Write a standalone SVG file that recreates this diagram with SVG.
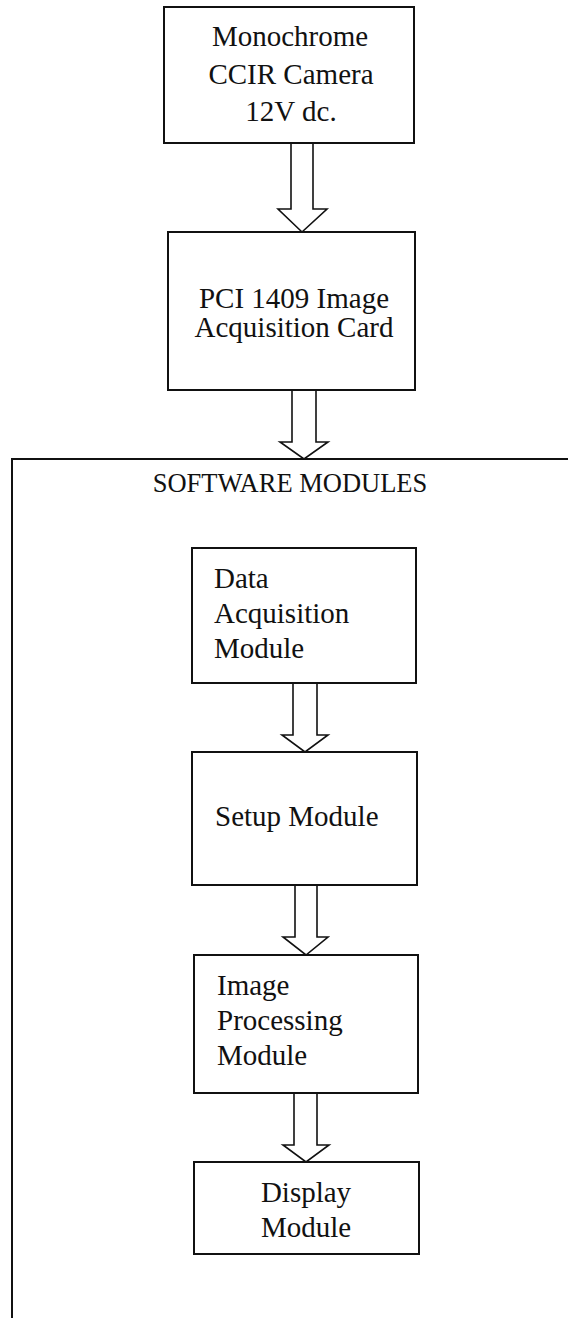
<svg xmlns="http://www.w3.org/2000/svg" width="568" height="1318" viewBox="0 0 568 1318">
<style>
.box{fill:#fff;stroke:#111;stroke-width:2}
.arr{fill:#fff;stroke:#111;stroke-width:1.6;stroke-linejoin:miter}
.frame{fill:none;stroke:#111;stroke-width:2}
text{font-family:"Liberation Serif","Times New Roman",serif;font-size:29px;fill:#111}
.c{text-anchor:middle}
</style>
<rect width="568" height="1318" fill="#fff"/>
<g id="software-modules">
<path class="frame" d="M12,1318 V459 H568"/>
<text class="c" x="290" y="492" style="font-size:26.5px">SOFTWARE MODULES</text>
</g>
<g id="connectors">
<path class="arr" d="M291,143 V209 H278 L302,232 L327,209 H313 V143"/>
<path class="arr" d="M292,390 V442 H280 L304,459 L328,442 H316 V390"/>
<path class="arr" d="M293,683 V735 H282 L305,752 L328,735 H317 V683"/>
<path class="arr" d="M295,885 V937 H283 L306,955 L328,937 H317 V885"/>
<path class="arr" d="M294,1093 V1145 H283 L306,1162 L329,1145 H317 V1093"/>
</g>
<g id="camera">
<rect class="box" x="164" y="7" width="250" height="136"/>
<text class="c" x="290" y="46">Monochrome</text>
<text class="c" x="291" y="84">CCIR Camera</text>
<text class="c" x="291" y="121">12V dc.</text>
</g>
<g id="acq-card">
<rect class="box" x="168" y="232" width="247" height="158"/>
<text class="c" x="294" y="308">PCI 1409 Image</text>
<text class="c" x="294" y="337">Acquisition Card</text>
</g>
<g id="data-acq">
<rect class="box" x="192" y="548" width="224" height="135"/>
<text x="214" y="588">Data</text>
<text x="214" y="623">Acquisition</text>
<text x="214" y="658">Module</text>
</g>
<g id="setup">
<rect class="box" x="192" y="752" width="225" height="133"/>
<text x="215" y="826">Setup Module</text>
</g>
<g id="image-proc">
<rect class="box" x="194" y="955" width="224" height="138"/>
<text x="217" y="995">Image</text>
<text x="217" y="1030">Processing</text>
<text x="217" y="1065">Module</text>
</g>
<g id="display">
<rect class="box" x="194" y="1162" width="225" height="92"/>
<text class="c" x="306" y="1202">Display</text>
<text class="c" x="306" y="1237">Module</text>
</g>
</svg>
